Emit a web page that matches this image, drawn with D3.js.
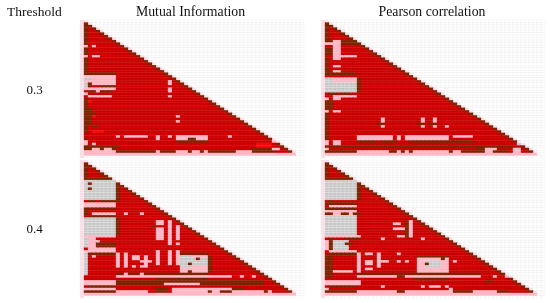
<!DOCTYPE html>
<html>
<head>
<meta charset="utf-8">
<script src="https://cdn.jsdelivr.net/npm/d3@7"></script>
<style>
  html, body { margin: 0; background: #fff; }
  svg { filter: blur(0.35px); }
  text { font-family: "Liberation Serif", serif; fill: #111; }
</style>
</head>
<body>
<svg width="550" height="303"></svg>
<script>
// variable indices of the triangular matrix
const variables = d3.range(53);
const methods = ['Mutual Information', 'Pearson correlation'];
const thresholds = ['0.3', '0.4'];
const headerLabel = 'Threshold';

// cell classes, everything not listed in a patch list is "sig" (diagonal is "strong")
const levels = ['none', 'weak', 'sig', 'strong', 'top'];
const levelColors = ['#c6c6c6', '#ffb9c6', '#cc0000', '#7d2400', '#f70a0a'];

// patches of cells: [rowFrom, rowTo, colFrom, colTo, level index]
const miPatches03 = [
  [0, 20, 0, 0, 3], [9, 9, 0, 0, 1], [9, 9, 2, 2, 1], [13, 13, 0, 0, 1], [13, 13, 2, 3, 1],
  [20, 20, 0, 7, 3], [21, 21, 0, 7, 1], [22, 22, 0, 1, 0], [22, 23, 2, 7, 1], [23, 23, 0, 1, 1],
  [24, 24, 0, 0, 0], [24, 25, 1, 1, 3], [24, 24, 2, 7, 1], [25, 25, 0, 0, 0], [25, 25, 4, 7, 3],
  [26, 26, 0, 7, 1], [27, 27, 1, 6, 3], [27, 27, 3, 3, 1], [28, 28, 0, 0, 0], [29, 29, 1, 6, 1],
  [30, 30, 0, 0, 3], [23, 24, 21, 21, 1], [26, 27, 21, 21, 1], [29, 29, 21, 21, 1],
  [30, 43, 0, 0, 3], [31, 31, 1, 1, 4], [34, 40, 1, 1, 3], [37, 37, 2, 2, 4], [36, 36, 2, 2, 3],
  [37, 37, 23, 23, 1], [39, 39, 23, 23, 1], [41, 41, 2, 3, 3], [43, 43, 2, 4, 4],
  [45, 45, 8, 8, 1], [45, 45, 10, 15, 1], [45, 46, 18, 18, 1], [45, 45, 21, 21, 1], [45, 46, 23, 30, 1],
  [45, 45, 36, 36, 1], [46, 46, 26, 27, 3], [47, 47, 23, 30, 3], [46, 46, 0, 0, 3],
  [47, 48, 0, 0, 1], [48, 48, 2, 2, 1], [49, 49, 0, 8, 3], [50, 50, 0, 7, 3], [50, 50, 2, 3, 1], [50, 50, 5, 6, 1],
  [48, 49, 43, 46, 4], [50, 51, 42, 47, 3], [47, 47, 47, 47, 1], [50, 50, 47, 48, 1],
  [51, 51, 0, 7, 1], [51, 51, 8, 37, 3], [51, 51, 18, 18, 1], [51, 51, 23, 25, 1], [51, 51, 27, 28, 1],
  [51, 51, 30, 30, 1], [51, 51, 38, 41, 1], [52, 52, 0, 52, 1]
];
const pearsonPatches03 = [
  [0, 6, 0, 0, 3], [7, 7, 0, 8, 3], [7, 14, 2, 3, 1], [8, 8, 0, 7, 1], [8, 8, 4, 7, 3], [10, 12, 0, 1, 3],
  [13, 13, 4, 7, 1], [14, 20, 0, 0, 3], [17, 17, 2, 3, 1], [19, 19, 2, 3, 1], [20, 20, 0, 7, 3],
  [22, 27, 0, 7, 0], [22, 23, 2, 7, 1], [22, 27, 8, 8, 3], [28, 28, 1, 2, 3], [28, 28, 4, 5, 3],
  [29, 29, 2, 7, 1], [30, 30, 0, 0, 1], [30, 30, 2, 3, 1], [31, 46, 0, 0, 3], [31, 34, 1, 1, 3],
  [35, 35, 0, 0, 1], [35, 35, 2, 3, 1], [38, 39, 14, 14, 1], [40, 40, 13, 14, 3], [41, 41, 14, 14, 1],
  [38, 39, 24, 24, 1], [40, 40, 23, 24, 3], [41, 41, 24, 24, 1], [38, 39, 27, 27, 1], [40, 40, 26, 27, 3],
  [41, 41, 27, 27, 1], [41, 41, 30, 30, 1], [45, 46, 8, 16, 1], [45, 46, 18, 18, 1], [45, 46, 20, 30, 1],
  [45, 45, 32, 36, 1], [47, 47, 8, 12, 3], [47, 47, 14, 17, 3], [47, 47, 21, 36, 3], [47, 48, 0, 0, 1],
  [47, 48, 2, 3, 1], [49, 49, 0, 46, 3], [45, 45, 46, 47, 1], [47, 48, 48, 50, 0], [50, 50, 0, 0, 1],
  [51, 51, 0, 45, 3], [51, 51, 8, 15, 1], [51, 51, 18, 18, 1], [51, 51, 20, 20, 1], [51, 51, 22, 30, 1],
  [51, 51, 32, 33, 1], [50, 50, 38, 39, 3], [50, 50, 40, 42, 1], [51, 51, 40, 41, 1], [51, 51, 47, 48, 1],
  [50, 50, 47, 48, 0], [52, 52, 0, 52, 1]
];
const miPatches04 = [
  [0, 5, 0, 0, 3], [6, 6, 0, 6, 3], [7, 14, 0, 7, 0], [8, 8, 1, 1, 3], [10, 10, 1, 1, 3], [8, 15, 8, 8, 3],
  [15, 15, 1, 2, 3], [15, 15, 4, 7, 3], [16, 16, 0, 7, 1], [17, 17, 0, 7, 1], [18, 18, 0, 7, 3],
  [19, 20, 0, 0, 3], [20, 20, 2, 7, 1], [20, 20, 10, 10, 1], [20, 20, 14, 14, 1], [21, 21, 1, 7, 3],
  [22, 28, 0, 7, 0], [22, 28, 8, 8, 3], [29, 29, 0, 7, 1], [30, 33, 1, 2, 1], [31, 31, 3, 3, 1], [32, 33, 3, 7, 3],
  [30, 33, 0, 0, 0], [34, 34, 1, 7, 1], [35, 35, 0, 7, 1], [36, 36, 1, 8, 3], [36, 44, 0, 0, 0], [37, 37, 2, 2, 1],
  [23, 24, 18, 19, 1], [25, 25, 17, 17, 3], [26, 30, 18, 19, 1], [23, 31, 21, 21, 1], [25, 30, 23, 23, 1],
  [32, 32, 21, 21, 1], [32, 32, 23, 23, 1], [35, 40, 18, 18, 1], [35, 40, 21, 21, 1], [35, 40, 23, 23, 1],
  [36, 40, 8, 8, 1], [36, 40, 10, 10, 1], [37, 38, 12, 13, 1], [39, 39, 14, 16, 1], [37, 41, 15, 15, 1],
  [36, 36, 24, 30, 3], [37, 43, 24, 30, 1], [37, 41, 24, 26, 0], [38, 40, 27, 30, 0], [40, 40, 26, 26, 3], [38, 38, 28, 28, 3],
  [43, 43, 26, 26, 3], [37, 43, 31, 31, 3], [41, 41, 8, 8, 1], [41, 41, 10, 10, 1], [41, 41, 12, 12, 1], [41, 41, 14, 14, 1],
  [44, 44, 8, 30, 3], [44, 44, 10, 10, 1], [44, 44, 14, 14, 1], [45, 45, 8, 36, 1], [45, 45, 39, 39, 1], [45, 45, 42, 42, 1],
  [46, 46, 18, 30, 3], [47, 48, 0, 7, 1], [47, 48, 8, 44, 3], [48, 48, 20, 28, 1], [49, 49, 1, 7, 3],
  [50, 50, 0, 7, 1], [51, 51, 0, 7, 3], [51, 51, 8, 15, 1], [50, 51, 18, 20, 3], [50, 50, 22, 36, 1],
  [51, 51, 22, 46, 1], [51, 51, 31, 31, 3], [51, 51, 34, 36, 3], [50, 50, 37, 39, 3], [51, 51, 45, 45, 3], [52, 52, 0, 52, 1]
];
const pearsonPatches04 = [
  [0, 5, 0, 0, 3], [6, 6, 0, 6, 3], [7, 14, 0, 7, 0], [7, 14, 8, 8, 3], [15, 15, 1, 1, 3], [16, 16, 0, 7, 3],
  [17, 17, 1, 7, 1], [18, 18, 0, 7, 3], [19, 19, 0, 7, 1], [20, 20, 0, 8, 1], [20, 20, 0, 1, 3], [20, 20, 4, 5, 3],
  [20, 20, 7, 8, 3], [21, 28, 0, 7, 0], [24, 24, 17, 18, 1], [26, 26, 17, 19, 1], [29, 29, 18, 19, 1],
  [23, 29, 21, 21, 1], [23, 29, 20, 20, 3], [30, 30, 14, 14, 1], [30, 30, 24, 24, 1], [29, 29, 0, 8, 1],
  [30, 30, 1, 1, 3], [30, 30, 5, 8, 3], [31, 34, 2, 5, 0], [31, 34, 1, 1, 3], [31, 34, 0, 0, 1], [32, 32, 5, 6, 3],
  [35, 35, 1, 7, 1], [36, 36, 1, 8, 3], [37, 45, 0, 1, 3], [36, 43, 8, 8, 1], [36, 36, 10, 11, 1], [39, 40, 10, 11, 1],
  [42, 42, 10, 11, 1], [36, 41, 13, 13, 1], [39, 39, 13, 15, 1], [36, 36, 18, 18, 1], [39, 39, 18, 18, 1], [39, 39, 20, 20, 1],
  [37, 43, 23, 30, 1], [39, 41, 25, 28, 0], [37, 37, 23, 30, 3], [40, 40, 25, 25, 3], [38, 38, 29, 29, 3], [39, 39, 32, 32, 1],
  [43, 43, 2, 6, 1], [44, 44, 8, 38, 3], [45, 45, 8, 38, 1], [45, 45, 18, 19, 3], [46, 46, 22, 30, 3], [47, 48, 0, 8, 1],
  [47, 48, 2, 7, 1], [45, 45, 42, 42, 1], [45, 45, 45, 45, 1], [47, 47, 40, 41, 3], [48, 48, 48, 50, 3],
  [49, 49, 1, 7, 3], [49, 49, 14, 14, 1], [49, 49, 24, 24, 1], [49, 49, 26, 28, 1], [49, 49, 30, 30, 1],
  [50, 50, 0, 0, 1], [51, 51, 0, 7, 3], [51, 51, 8, 17, 1], [51, 51, 18, 19, 3], [51, 51, 20, 30, 1], [50, 51, 31, 31, 1],
  [51, 51, 32, 36, 3], [51, 51, 37, 42, 1], [51, 51, 43, 45, 3], [52, 52, 0, 52, 1]
];

const panelPatches = [[miPatches03, pearsonPatches03], [miPatches04, pearsonPatches04]];

const svg = d3.select('svg');
const panelWidth = 224;
const panelHeight = 138;
const rowTop = d3.scaleOrdinal().domain(thresholds).range([20, 160]);
const panelLeft = d3.scaleOrdinal().domain(methods).range([80, 321]);

// one margin column and row on the left/top, one spare on the right/bottom
const xScale = d3.scaleBand().domain(d3.range(-1, 55)).range([0, panelWidth]);
const yScale = d3.scaleBand().domain(d3.range(-1, 54)).range([0, panelHeight]);
const color = d3.scaleOrdinal().domain(levels).range(levelColors);

function buildCells(patches) {
  const cells = [];
  const grid = variables.map(r => variables.map(c => (c === r ? 3 : 2)));
  patches.forEach(([r0, r1, c0, c1, lv]) => {
    for (let r = r0; r <= r1; r++) {
      for (let c = c0; c <= c1; c++) {
        if (c <= r) grid[r][c] = lv;
      }
    }
  });
  variables.forEach(r => variables.forEach(c => {
    if (c <= r) cells.push({row: r, col: c, level: levels[grid[r][c]]});
  }));
  return cells;
}

thresholds.forEach((threshold, ti) => {
  methods.forEach((method, mi) => {
    const panel = svg.append('g')
        .attr('transform', `translate(${panelLeft(method)}, ${rowTop(threshold)})`);

    // pale grid behind the matrix
    const gridCells = d3.cross(xScale.domain(), yScale.domain());
    panel.append('g').selectAll('rect')
        .data(gridCells)
        .join('rect')
        .attr('x', d => xScale(d[0]))
        .attr('y', d => yScale(d[1]))
        .attr('width', xScale.bandwidth())
        .attr('height', yScale.bandwidth())
        .attr('fill', d => {
          if ((d[0] === -1 || d[1] === 52) && d[0] < 53) return '#ffd9e6';
          if (d[0] === d[1] + 1 && d[0] < 53) return '#ffdff0';
          return '#fff';
        })
        .attr('stroke', '#eeeeee')
        .attr('stroke-width', 0.4);

    // same-colour hairline so that neighbouring cells leave no seam
    panel.append('g').selectAll('rect')
        .data(buildCells(panelPatches[ti][mi]))
        .join('rect')
        .attr('x', d => xScale(d.col))
        .attr('y', d => yScale(d.row))
        .attr('width', xScale.bandwidth())
        .attr('height', yScale.bandwidth())
        .attr('fill', d => color(d.level))
        .attr('stroke', d => (d.level === 'none' ? '#e6e6e6' : color(d.level)))
        .attr('stroke-width', 0.3);
  });
});

// headers
svg.append('text').attr('x', 7).attr('y', 16).attr('font-size', 13.5).text(headerLabel);
svg.selectAll('.method')
    .data(methods)
    .join('text')
    .attr('class', 'method')
    .attr('x', (d, i) => [190.5, 432][i])
    .attr('y', 16)
    .attr('text-anchor', 'middle')
    .attr('font-size', 13.8)
    .text(d => d);
svg.selectAll('.threshold')
    .data(thresholds)
    .join('text')
    .attr('class', 'threshold')
    .attr('x', 34.5)
    .attr('y', (d, i) => [94, 233][i])
    .attr('text-anchor', 'middle')
    .attr('font-size', 13)
    .text(d => d);
</script>
</body>
</html>
